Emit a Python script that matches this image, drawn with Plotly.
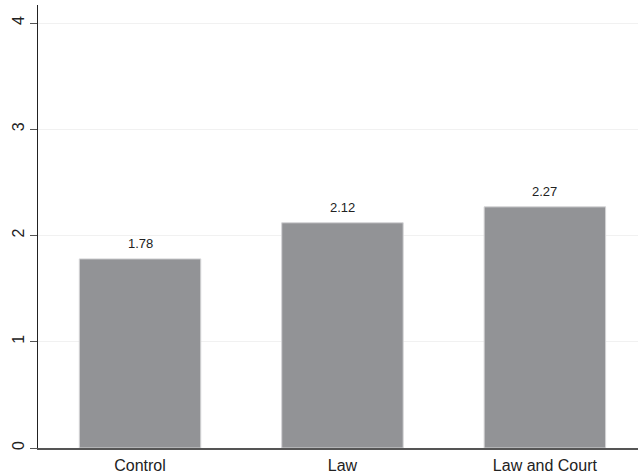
import plotly.graph_objects as go

categories = ["Control", "Law", "Law and Court"]
values = [1.78, 2.12, 2.27]
value_labels = ["1.78", "2.12", "2.27"]
y_ticks = [0, 1, 2, 3, 4]
y_tick_labels = ["0", "1", "2", "3", "4"]

fig = go.Figure()
fig.add_trace(go.Bar(
    x=categories, y=values, width=0.6,
    marker=dict(color="#929396", line=dict(color="#d4d4d6", width=1)),
    showlegend=False,
))
for c, v, t in zip(categories, values, value_labels):
    fig.add_annotation(x=c, y=v, text=t, showarrow=False, yshift=15,
                       font=dict(size=13, color="#222222"))

fig.update_layout(
    width=638, height=476,
    margin=dict(l=38, r=0, t=5, b=28, autoexpand=False),
    paper_bgcolor="white", plot_bgcolor="white",
    font=dict(family="Liberation Sans, Arial, sans-serif", color="#222222"),
    bargap=0.4,
)
fig.update_xaxes(
    range=[-0.504, 2.46], showline=True, linecolor="#555555", linewidth=1.5,
    ticks="", tickfont=dict(size=16), showgrid=False, automargin=False,
    ticklabelstandoff=2,
)
fig.update_yaxes(
    range=[0, 4.17], tickvals=y_ticks, ticktext=y_tick_labels, tickangle=-90,
    showline=True, linecolor="#222222", linewidth=1,
    ticks="outside", ticklen=7, tickcolor="#555555", tickwidth=1,
    tickfont=dict(size=16), showgrid=True, gridcolor="#f1f1f1", gridwidth=1,
    zeroline=False, automargin=False, ticklabelstandoff=0,
)
fig.write_html("out.html", config={"displayModeBar": False},
               post_script="document.body.style.margin='0';")
